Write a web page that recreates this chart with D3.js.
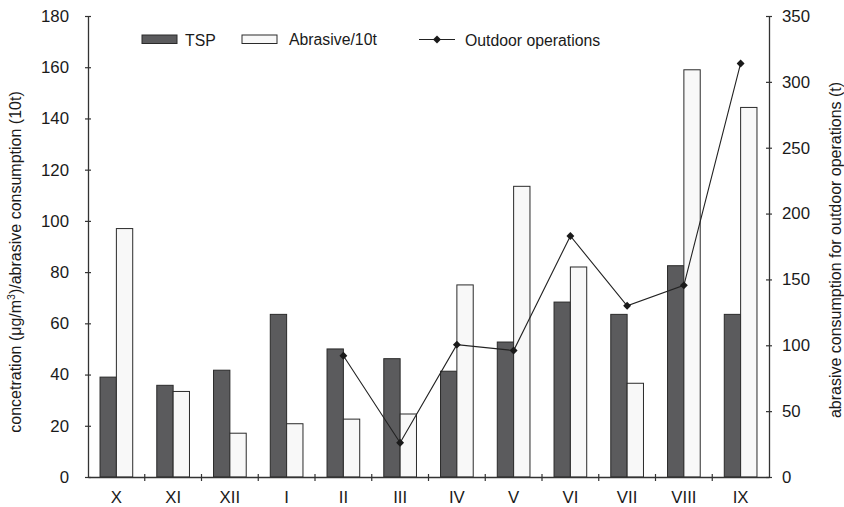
<!DOCTYPE html>
<html><head><meta charset="utf-8">
<script src="https://cdn.jsdelivr.net/npm/d3@7"></script>
<style>body{margin:0;background:#fff;} svg{display:block;font-family:"Liberation Sans",Arial,sans-serif;}</style>
</head><body>
<svg id="c" width="844" height="507"></svg>
<script>
const months = ["X","XI","XII","I","II","III","IV","V","VI","VII","VIII","IX"];
const tsp = [39, 35.8, 41.7, 63.5, 50, 46.2, 41.3, 52.7, 68.3, 63.5, 82.5, 63.5];
const abrasive = [97, 33.4, 17.1, 20.8, 22.6, 24.6, 75, 113.5, 82, 36.6, 159, 144.3];
const outdoor = [null, null, null, null, 92, 26, 100.5, 96, 183, 130, 145.5, 314];
const leftTicks = [0,20,40,60,80,100,120,140,160,180];
const rightTicks = [0,50,100,150,200,250,300,350];

const svg = d3.select("#c");
const m = {l:88, r:75, t:16, b:30};
const W = 844, H = 507;
const x = d3.scaleBand().domain(months).range([m.l, W-m.r]).padding(0);
const y = d3.scaleLinear().domain([0,180]).range([H-m.b, m.t]);
const y2 = d3.scaleLinear().domain([0,350]).range([H-m.b, m.t]);
const bw = x.bandwidth()*0.288;
const axisCol = "#333";

// bars
const g = svg.append("g");
g.selectAll("rect.tsp").data(months).enter().append("rect")
  .attr("x", d => x(d)+x.bandwidth()/2 - bw)
  .attr("y", (d,i) => y(tsp[i]))
  .attr("width", bw).attr("height", (d,i) => y(0)-y(tsp[i]))
  .attr("fill", "#5b5b5d").attr("stroke", "#2a2a2a").attr("stroke-width", 1);
g.selectAll("rect.ab").data(months).enter().append("rect")
  .attr("x", d => x(d)+x.bandwidth()/2)
  .attr("y", (d,i) => y(abrasive[i]))
  .attr("width", bw).attr("height", (d,i) => y(0)-y(abrasive[i]))
  .attr("fill", "#f8f8f8").attr("stroke", "#2a2a2a").attr("stroke-width", 1);

// line
const pts = months.map((d,i)=>({m:d,v:outdoor[i]})).filter(p=>p.v!==null);
const line = d3.line().x(p=>x(p.m)+x.bandwidth()/2).y(p=>y2(p.v));
svg.append("path").datum(pts).attr("d", line).attr("fill","none").attr("stroke","#222").attr("stroke-width",1.1);
const diamond = d3.symbol().type(d3.symbolDiamond2).size(40);
svg.selectAll("path.mk").data(pts).enter().append("path")
  .attr("d", diamond)
  .attr("transform", p => `translate(${x(p.m)+x.bandwidth()/2},${y2(p.v)})`)
  .attr("fill","#1a1a1a");

// axes
const fs = "16.8px";
const la = svg.append("g").attr("transform",`translate(${m.l},0)`)
  .call(d3.axisLeft(y).tickValues(leftTicks).tickSizeInner(3).tickSizeOuter(0).tickPadding(16));
const ra = svg.append("g").attr("transform",`translate(${W-m.r},0)`)
  .call(d3.axisRight(y2).tickValues(rightTicks).tickSizeInner(3).tickSizeOuter(0).tickPadding(10));
[la,ra].forEach(a=>{
  a.select(".domain").attr("stroke",axisCol).attr("stroke-width",1.3);
  a.selectAll(".tick line").attr("stroke",axisCol).attr("stroke-width",1.2);
  a.selectAll(".tick text").attr("font-size",fs).attr("fill","#1a1a1a").attr("font-family","Liberation Sans, Arial, sans-serif");
});
// crossing ticks
la.selectAll(".tick line").attr("x1",3).attr("x2",-3);
ra.selectAll(".tick line").attr("x1",-3).attr("x2",3);

const xa = svg.append("g").attr("transform",`translate(0,${H-m.b})`)
  .call(d3.axisBottom(x).tickSize(0).tickPadding(14));
xa.select(".domain").attr("stroke",axisCol).attr("stroke-width",1.3);
xa.selectAll(".tick text").attr("font-size",fs).attr("fill","#1a1a1a").attr("font-family","Liberation Sans, Arial, sans-serif");
// boundary ticks
xa.selectAll("line.bt").data(months.slice(1)).enter().append("line")
  .attr("x1", d=>x(d)).attr("x2", d=>x(d)).attr("y1",-3).attr("y2",4)
  .attr("stroke",axisCol).attr("stroke-width",1.2);

// axis titles
const tfs = "16px";
svg.append("text").attr("transform",`translate(21,262) rotate(-90)`)
  .attr("text-anchor","middle").attr("font-size",tfs).attr("fill","#1a1a1a")
  .html('concetration (μg/m<tspan baseline-shift="super" font-size="10.5px">3</tspan>)/abrasive consumption (10t)');
svg.append("text").attr("transform",`translate(841,250) rotate(-90)`)
  .attr("text-anchor","middle").attr("font-size",tfs).attr("fill","#1a1a1a")
  .text("abrasive consumption for outdoor operations (t)");

// legend
const lg = svg.append("g").attr("font-size","15.8px").attr("fill","#1a1a1a");
lg.append("rect").attr("x",142).attr("y",35).attr("width",35).attr("height",8.5).attr("fill","#5b5b5d").attr("stroke","#2a2a2a");
lg.append("text").attr("x",185).attr("y",46).text("TSP");
lg.append("rect").attr("x",242).attr("y",35).attr("width",35).attr("height",8.5).attr("fill","#f8f8f8").attr("stroke","#2a2a2a");
lg.append("text").attr("x",289).attr("y",44.5).text("Abrasive/10t");
lg.append("line").attr("x1",419).attr("x2",455).attr("y1",39.5).attr("y2",39.5).attr("stroke","#222").attr("stroke-width",1.1);
lg.append("path").attr("d",diamond).attr("transform","translate(437,39.5)").attr("fill","#1a1a1a");
lg.append("text").attr("x",465).attr("y",45.5).text("Outdoor operations");
</script>
</body></html>
